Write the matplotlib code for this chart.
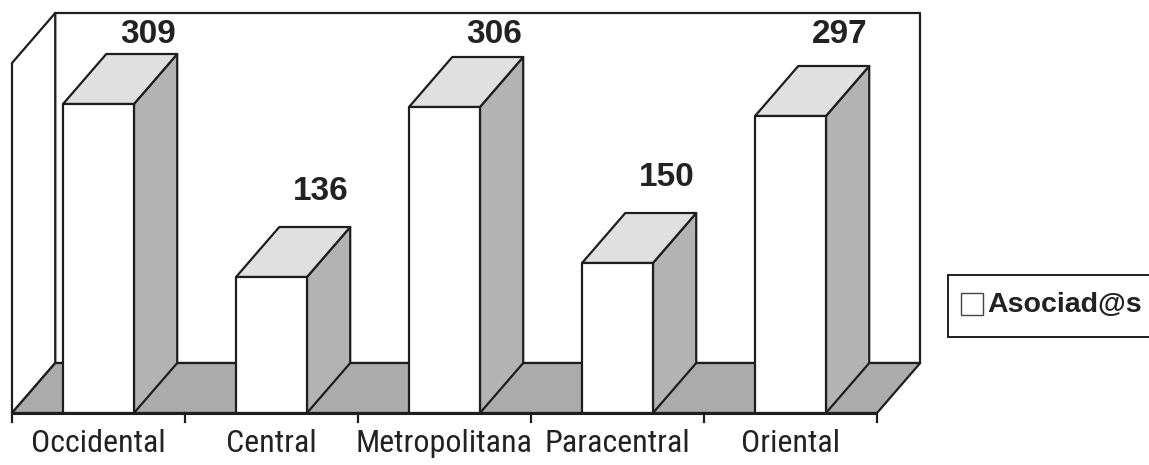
import matplotlib
matplotlib.use('Agg')
import matplotlib.pyplot as plt
from matplotlib.patches import Polygon, Rectangle
from matplotlib import font_manager

categories = ['Occidental', 'Central', 'Metropolitana', 'Paracentral', 'Oriental']
values = [309, 136, 306, 150, 297]
series_name = 'Asociad@s'
ymax = 350

names = {f.name for f in font_manager.fontManager.ttflist}
narrow = 'Liberation Sans'
for cand in ['Arial Narrow', 'Liberation Sans Narrow', 'Roboto Condensed',
             'Archivo Narrow', 'PT Sans Narrow']:
    if cand in names:
        narrow = cand
        break

edge = '#1e1e1e'
side_col = '#b3b3b3'
top_col = '#e0e0e0'
floor_col = '#ababab'

DX = 0.25   # depth offset, category units
DY = 50     # depth offset, value units
w = 0.41    # bar width
lw = 1.6

fig = plt.figure(figsize=(11.49, 4.65), dpi=100)
ax = fig.add_axes([12/1149, 52/465, 865/1149, 350/465])
ax.set_xlim(0, len(categories))
ax.set_ylim(0, ymax)
ax.axis('off')

n = len(categories)

def poly(pts, fc, z):
    ax.add_patch(Polygon(pts, closed=True, facecolor=fc, edgecolor=edge,
                         linewidth=lw, joinstyle='round', clip_on=False, zorder=z))

# walls and floor
poly([(DX, DY), (n + DX, DY), (n + DX, ymax + DY), (DX, ymax + DY)], 'white', 1)
poly([(0, 0), (DX, DY), (DX, ymax + DY), (0, ymax)], 'white', 1)
poly([(0, 0), (n, 0), (n + DX, DY), (DX, DY)], floor_col, 2)

# bars
for i, v in enumerate(values):
    c = i + 0.5
    l, r = c - w / 2, c + w / 2
    poly([(r, 0), (r + DX, DY), (r + DX, v + DY), (r, v)], side_col, 3)
    poly([(l, v), (r, v), (r + DX, v + DY), (l + DX, v + DY)], top_col, 3)
    poly([(l, 0), (r, 0), (r, v), (l, v)], 'white', 3)
    ax.text(c + DX + 0.035, min(v + DY + 20, ymax + 13), str(v), ha='center', va='bottom',
            fontsize=24, fontweight='bold', color='#222222', family='Liberation Sans',
            clip_on=False, zorder=5)

# front axis line with ticks
ax.plot([0, n], [0, 0], color=edge, linewidth=2.2, clip_on=False, zorder=4,
        solid_capstyle='butt')
for k in range(n + 1):
    ax.plot([k, k], [0, -9], color=edge, linewidth=1.6, clip_on=False, zorder=4)
for i, name in enumerate(categories):
    ax.text(i + 0.5, -30, name, ha='center', va='center', fontsize=23,
            family=narrow, color='#222222', clip_on=False)

# legend box (runs off the right edge)
fig.patches.append(Rectangle((948/1149, (465-337)/465), 220/1149, 62/465,
                             transform=fig.transFigure, facecolor='white',
                             edgecolor=edge, linewidth=1.4))
fig.patches.append(Rectangle((961/1149, (465-315)/465), 22/1149, 22/465,
                             transform=fig.transFigure, facecolor='white',
                             edgecolor='#444444', linewidth=1.0))
fig.text(987/1149, (465-305)/465, series_name, ha='left', va='center',
         fontsize=20.5, fontweight='bold', family='Liberation Sans', color='#222222')

fig.savefig('out.png', dpi=100)
